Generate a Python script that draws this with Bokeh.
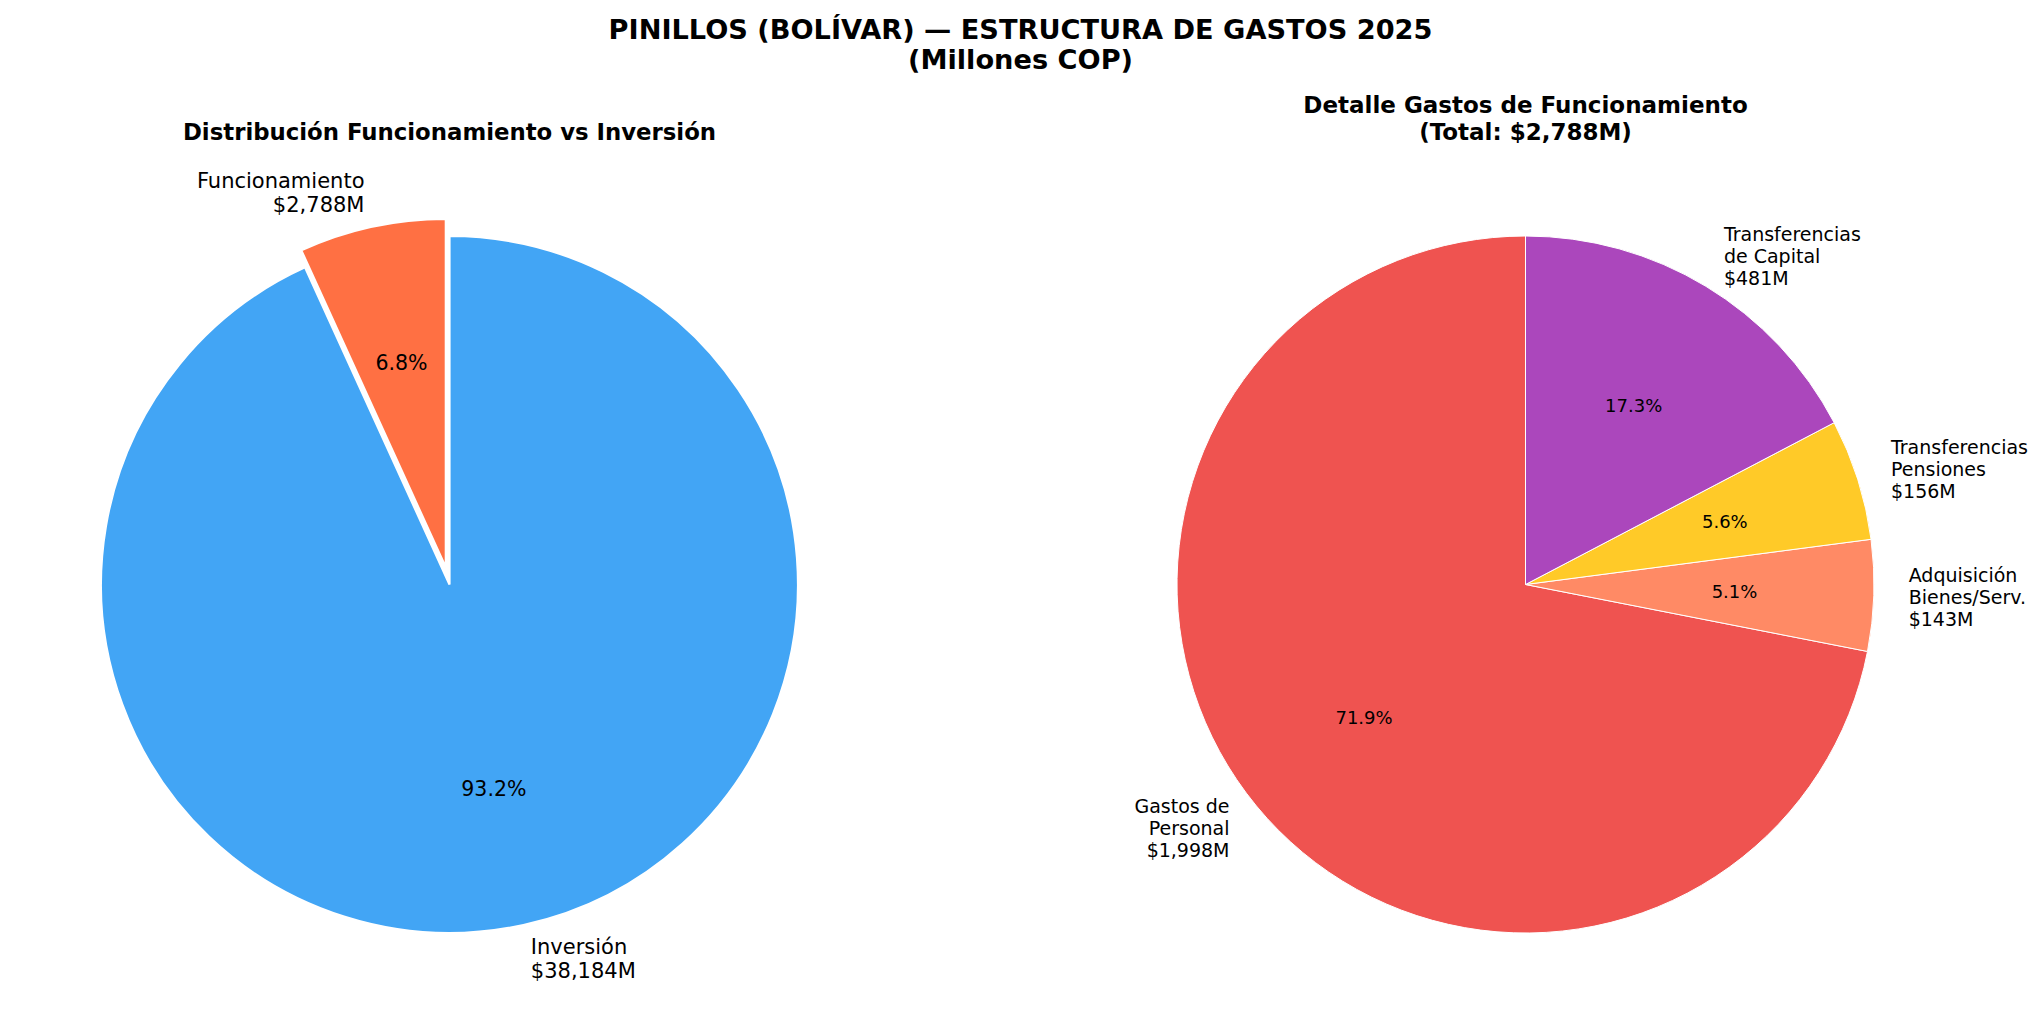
import numpy as np
from bokeh.plotting import figure
from bokeh.models import Range1d, ColumnDataSource
from bokeh.core.properties import value
from bokeh.embed import file_html
from bokeh.resources import INLINE

# ---------------- data ----------------
main_title = "PINILLOS (BOLÍVAR) — ESTRUCTURA DE GASTOS 2025\n(Millones COP)"

left_title = "Distribución Funcionamiento vs Inversión"
left_labels = ["Funcionamiento", "Inversión"]
left_values = [2788, 38184]
left_colors = ["#FF7043", "#42A5F5"]
left_explode = [0.05, 0.0]

right_title = "Detalle Gastos de Funcionamiento\n(Total: $2,788M)"
right_labels = ["Gastos de\nPersonal", "Adquisición\nBienes/Serv.",
                "Transferencias\nPensiones", "Transferencias\nde Capital"]
right_values = [1998, 143, 156, 481]
right_colors = ["#EF5350", "#FF8A65", "#FFCA28", "#AB47BC"]
right_explode = [0.0, 0.0, 0.0, 0.0]

# ---------------- layout ----------------
W, H = 2040, 1034
FONT = "DejaVu Sans"

p = figure(width=W, height=H, output_backend="svg", toolbar_location=None,
           x_range=Range1d(0, W), y_range=Range1d(0, H), min_border=0,
           background_fill_color="white", border_fill_color="white")
p.axis.visible = False
p.grid.visible = False
p.outline_line_color = None


def Y(y_px):
    return H - y_px


def pie(cx, cy, r, labels, values, colors, explode, label_size, pct_size, edge_w, lh):
    vals = np.array(values, dtype=float)
    frac = vals / vals.sum()
    start = np.pi / 2 + 2 * np.pi * np.concatenate([[0], np.cumsum(frac)[:-1]])
    end = start + 2 * np.pi * frac
    mid = (start + end) / 2
    ex = np.array(explode)
    xs = cx + ex * r * np.cos(mid)
    ys = Y(cy) + ex * r * np.sin(mid)
    src = ColumnDataSource(dict(x=xs, y=ys, start=start, end=end, color=colors))
    p.wedge(x="x", y="y", radius=r, start_angle="start", end_angle="end",
            direction="anticlock", fill_color="color", line_color="white",
            line_width=edge_w, source=src)
    # outer labels
    lx = xs + 1.1 * r * np.cos(mid)
    ly = ys + 1.1 * r * np.sin(mid)
    texts = [f"{l}\n${v:,.0f}M" for l, v in zip(labels, values)]
    align = ["left" if np.cos(m) >= 0 else "right" for m in mid]
    lsrc = ColumnDataSource(dict(x=lx, y=ly, text=texts, align=align))
    p.text(x="x", y="y", text="text", text_align="align", text_baseline="middle",
           text_font=value(FONT), text_font_size=label_size, text_color="black",
           text_line_height=lh, source=lsrc)
    # percentages
    px = xs + 0.6 * r * np.cos(mid)
    py = ys + 0.6 * r * np.sin(mid)
    pct = [f"{f*100:.1f}%" for f in frac]
    psrc = ColumnDataSource(dict(x=px, y=py, text=pct))
    p.text(x="x", y="y", text="text", text_align="center", text_baseline="middle",
           text_font=value(FONT), text_font_size=pct_size, text_color="black",
           source=psrc)


pie(449, 584, 348.5, left_labels, left_values, left_colors, left_explode, "21px", "20.5px", 2.2, 0.98)
pie(1525, 584, 348.5, right_labels, right_values, right_colors, right_explode, "19px", "18px", 1, 1.0)

# titles
p.text(x=[W / 2], y=[Y(44)], text=[main_title], text_align="center", text_baseline="middle",
       text_font=value(FONT), text_font_size="27.2px", text_font_style="bold",
       text_line_height=0.99, text_color="black")
p.text(x=[449], y=[Y(131)], text=[left_title], text_align="center", text_baseline="middle",
       text_font=value(FONT), text_font_size="22.8px", text_font_style="bold", text_color="black")
p.text(x=[1525], y=[Y(118)], text=[right_title], text_align="center", text_baseline="middle",
       text_font=value(FONT), text_font_size="23px", text_font_style="bold",
       text_line_height=1.02, text_color="black")

open("out.html", "w").write(file_html(p, INLINE))
